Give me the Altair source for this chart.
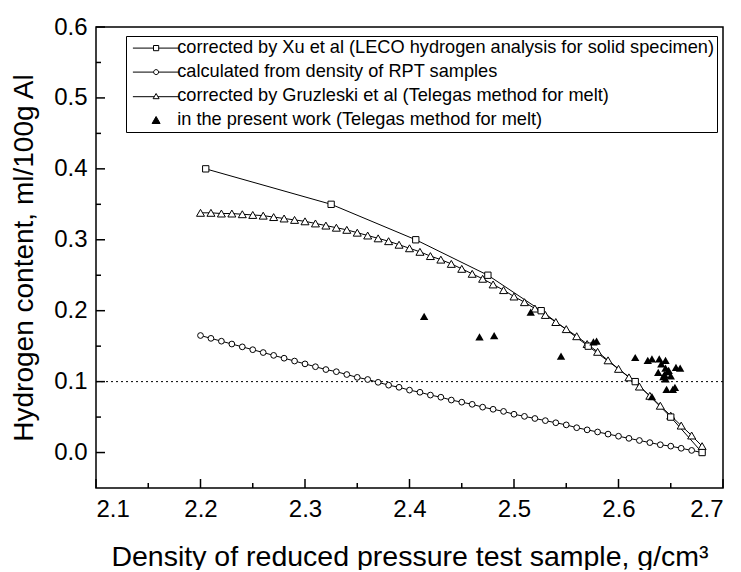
import altair as alt
import pandas as pd

# ---------------- data ----------------
S1 = "corrected by Xu et al (LECO hydrogen analysis for solid specimen)"
S2 = "calculated from density of RPT samples"
S3 = "corrected by Gruzleski et al (Telegas method for melt)"
S4 = "in the present work (Telegas method for melt)"

xu_x = [2.205, 2.325, 2.406, 2.475, 2.526, 2.571, 2.616, 2.650, 2.680]
xu_y = [0.400, 0.350, 0.300, 0.250, 0.200, 0.150, 0.100, 0.050, 0.000]

dens = [2.20, 2.21, 2.22, 2.23, 2.24, 2.25, 2.26, 2.27, 2.28, 2.29,
        2.30, 2.31, 2.32, 2.33, 2.34, 2.35, 2.36, 2.37, 2.38, 2.39,
        2.40, 2.41, 2.42, 2.43, 2.44, 2.45, 2.46, 2.47, 2.48, 2.49,
        2.50, 2.51, 2.52, 2.53, 2.54, 2.55, 2.56, 2.57, 2.58, 2.59,
        2.60, 2.61, 2.62, 2.63, 2.64, 2.65, 2.66, 2.67, 2.68]

calc_y = [0.165, 0.161, 0.157, 0.153, 0.149, 0.145, 0.141, 0.137, 0.133, 0.129,
          0.125, 0.121, 0.117, 0.114, 0.110, 0.106, 0.103, 0.099, 0.095, 0.092,
          0.088, 0.085, 0.081, 0.078, 0.074, 0.071, 0.068, 0.064, 0.061, 0.058,
          0.054, 0.051, 0.048, 0.045, 0.042, 0.039, 0.035, 0.032, 0.029, 0.026,
          0.023, 0.020, 0.017, 0.014, 0.011, 0.009, 0.006, 0.003, 0.000]

gru_y = [0.338, 0.338, 0.337, 0.337, 0.336, 0.335, 0.334, 0.332, 0.330, 0.328,
         0.326, 0.323, 0.320, 0.317, 0.314, 0.310, 0.306, 0.302, 0.298, 0.293,
         0.288, 0.283, 0.277, 0.272, 0.266, 0.259, 0.252, 0.245, 0.237, 0.229,
         0.220, 0.212, 0.203, 0.194, 0.184, 0.174, 0.164, 0.153, 0.142, 0.130,
         0.118, 0.106, 0.093, 0.080, 0.066, 0.052, 0.038, 0.024, 0.009]

present_x = [2.414, 2.467, 2.481, 2.516, 2.545, 2.576, 2.579, 2.616, 2.628, 2.632,
             2.639, 2.645, 2.641, 2.645, 2.648, 2.638, 2.647, 2.643, 2.650, 2.645,
             2.644, 2.655, 2.659, 2.646, 2.652, 2.654, 2.632]
present_y = [0.192, 0.163, 0.165, 0.198, 0.136, 0.156, 0.157, 0.134, 0.130, 0.132,
             0.132, 0.130, 0.125, 0.119, 0.116, 0.113, 0.114, 0.107, 0.108, 0.104,
             0.110, 0.120, 0.119, 0.089, 0.089, 0.092, 0.079]

ref_level = [0.1]

x_major = [2.1, 2.2, 2.3, 2.4, 2.5, 2.6, 2.7]
x_minor = [2.15, 2.25, 2.35, 2.45, 2.55, 2.65]
y_major = [0.0, 0.1, 0.2, 0.3, 0.4, 0.5, 0.6]
y_minor = [0.05, 0.15, 0.25, 0.35, 0.45, 0.55]

# ---------------- layout ----------------
W, H = 627, 461
FONT = "Liberation Sans"

xu_df = pd.DataFrame({"x": xu_x, "y": xu_y})
calc_df = pd.DataFrame({"x": dens, "y": calc_y})
gru_df = pd.DataFrame({"x": dens, "y": gru_y})
pres_df = pd.DataFrame({"x": present_x, "y": present_y})

X = alt.X("x:Q", scale=alt.Scale(domain=[2.1, 2.7], nice=False, zero=False),
          axis=alt.Axis(values=x_major, format=".1f", ticks=False, tickSize=0, domain=False,
                        grid=False, labelFontSize=24, labelPadding=9,
                        labelFont=FONT, titleFont=FONT, titleFontWeight="normal",
                        labelColor="black", titleColor="black",
                        title="Density of reduced pressure test sample, g/cm³",
                        titleFontSize=28.5, titleX=W / 2, titleY=77,
                        titleBaseline="alphabetic", titleAlign="center"))
Y = alt.Y("y:Q", scale=alt.Scale(domain=[-0.05, 0.6], nice=False, zero=False),
          axis=alt.Axis(values=y_major, format=".1f", ticks=False, tickSize=0, domain=False,
                        grid=False, labelFontSize=24, labelPadding=9,
                        labelFont=FONT, titleFont=FONT, titleFontWeight="normal",
                        labelColor="black", titleColor="black",
                        title="Hydrogen content, ml/100g Al",
                        titleFontSize=28, titleX=-72, titleY=H / 2,
                        titleBaseline="middle", titleAlign="center"))

dotted = alt.Chart(pd.DataFrame({"y": ref_level})).mark_rule(
    color="black", strokeWidth=1, strokeDash=[2, 3]).encode(y=Y)

def line(df):
    return alt.Chart(df).mark_line(color="black", strokeWidth=1).encode(x=X, y=Y, order="x:Q")

def pts(df, shape, size):
    return alt.Chart(df).mark_point(shape=shape, size=size, filled=True, fill="white",
                                    stroke="black", strokeWidth=1, opacity=1).encode(x=X, y=Y)

pres = alt.Chart(pres_df).mark_point(shape="triangle-up", size=70, filled=True,
                                     color="black", opacity=1).encode(x=X, y=Y)

xt_major = alt.Chart(pd.DataFrame({"x": x_major})).mark_rule(color="black", strokeWidth=1.5).encode(
    x=X, y=alt.value(H), y2=alt.value(H - 9))
xt_minor = alt.Chart(pd.DataFrame({"x": x_minor})).mark_rule(color="black", strokeWidth=1.5).encode(
    x=X, y=alt.value(H), y2=alt.value(H - 5))
yt_major = alt.Chart(pd.DataFrame({"y": y_major})).mark_rule(color="black", strokeWidth=1.5).encode(
    y=Y, x=alt.value(0), x2=alt.value(9))
yt_minor = alt.Chart(pd.DataFrame({"y": y_minor})).mark_rule(color="black", strokeWidth=1.5).encode(
    y=Y, x=alt.value(0), x2=alt.value(5))

# legend-only layer (its points sit outside the x domain and are clipped)
series = [S1, S2, S3, S4]
P_sq = "M-5.8,0H-0.65M0.65,0H5.8M-0.65,-0.65H0.65V0.65H-0.65Z"
P_ci = "M-5.8,0H-0.62M0.62,0H5.8M0.62,0A0.62,0.62,0,1,1,-0.62,0A0.62,0.62,0,1,1,0.62,0Z"
P_tr = "M-5.8,0.15H-0.45M0.45,0.15H5.8M0,-0.65L0.75,0.65H-0.75Z"
P_ft = "M0,-0.9L1,0.85H-1Z"
leg = alt.Legend(title=None, orient="none", legendX=30, legendY=9,
                 labelFont=FONT, labelFontSize=18.2, labelColor="black", labelLimit=0,
                 symbolSize=64, symbolStrokeColor="black", symbolStrokeWidth=1,
                 strokeColor="black", fillColor="white", padding=3, rowPadding=5,
                 symbolOffset=18, labelOffset=12, cornerRadius=0)
leg_df = pd.DataFrame({"x": [2.0] * 4, "y": [0.3] * 4, "series": series})
legend_layer = alt.Chart(leg_df).mark_point(clip=True, filled=True, strokeWidth=1,
                                            size=64, opacity=1).encode(
    x=X, y=Y,
    shape=alt.Shape("series:N", scale=alt.Scale(domain=series, range=[P_sq, P_ci, P_tr, P_ft]), legend=leg),
    fill=alt.Fill("series:N", scale=alt.Scale(domain=series, range=["white", "white", "white", "black"]), legend=leg),
    stroke=alt.Stroke("series:N", scale=alt.Scale(domain=series, range=["black", "black", "black", "black"]), legend=leg),
)

chart = alt.layer(
    dotted,
    line(calc_df), line(gru_df), line(xu_df),
    pts(calc_df, "circle", 33), pts(gru_df, "triangle-up", 64), pts(xu_df, "square", 40),
    pres,
    xt_major, xt_minor, yt_major, yt_minor,
    legend_layer,
).properties(
    width=W, height=H,
    background="white",
    autosize=alt.AutoSizeParams(type="none"),
    padding={"left": 88, "top": 19, "right": 10, "bottom": 82},
).configure_view(stroke="black", strokeWidth=1.5).configure_axis(
    labelFont=FONT, titleFont=FONT, labelColor="black", titleColor="black",
    titleFontWeight="normal",
)

chart.save("out.html", embed_options={"renderer": "svg", "actions": False})
